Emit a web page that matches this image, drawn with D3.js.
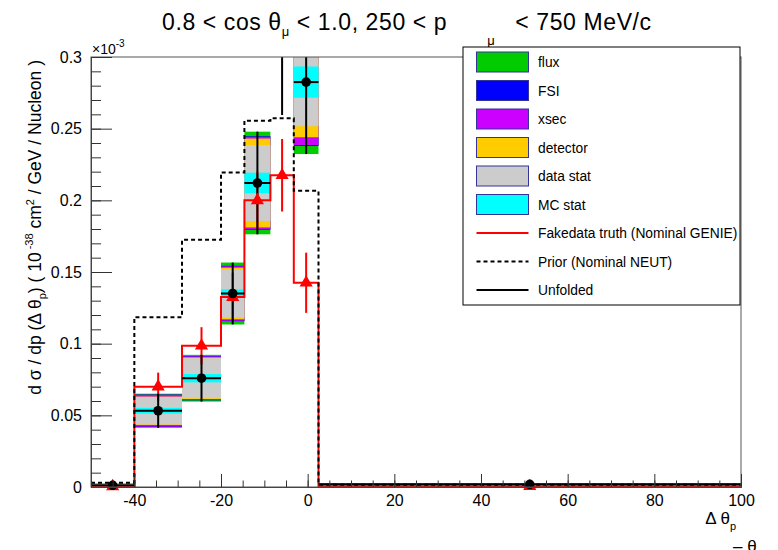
<!DOCTYPE html>
<html>
<head>
  <meta charset="utf-8">
  <title>Delta theta_p unfolded cross section</title>
  <style type="text/css">
    body { margin: 0; background: #fff; }
    svg text { font-family: "Liberation Sans", Arial, Helvetica, sans-serif; fill: #000; }
  </style>
</head>
<body>
  <script src="https://cdn.jsdelivr.net/npm/d3@7/dist/d3.min.js"></script>
  <script>

    // bin edges of delta theta_p
    var edges = [-50, -40, -29, -20, -14.6, -8.6, -3.2, 2.5, 100];

    // fake data truth (Nominal GENIE), units of 1e-3
    var truth    = [0.0004, 0.070, 0.0985, 0.1325, 0.200, 0.2175, 0.1425, 0.0005];
    var truthErr = [0.0004, 0.0098, 0.013, 0.017, 0.020, 0.0253, 0.021, 0.0003];

    // prior (Nominal NEUT)
    var prior = [0.003, 0.1185, 0.1725, 0.2195, 0.2556, 0.2572, 0.2066, 0.0015];

    // unfolded result
    var unfolded = [0.0012, 0.0532, 0.0759, 0.1350, 0.2121, 0.33, 0.2825, 0.0019];

    // cumulative half widths of the error bands
    var errMCStat   = [0.0002, 0.0020, 0.0029, 0.0029, 0.0072, 0.010, 0.0109, 0.0001];
    var errDataStat = [0.0008, 0.0096, 0.0140, 0.0168, 0.0265, 0.035, 0.0308, 0.0003];
    var errDetector = [0.0009, 0.0099, 0.0145, 0.0180, 0.0310, 0.050, 0.0385, 0.0003];
    var errXsec     = [0.0010, 0.0111, 0.0152, 0.0190, 0.0322, 0.056, 0.0439, 0.0004];
    var errFSI      = [0.0010, 0.0113, 0.0154, 0.0193, 0.0326, 0.057, 0.0446, 0.0004];
    var errFlux     = [0.0011, 0.0119, 0.0163, 0.0216, 0.0358, 0.0705, 0.0502, 0.0004];

    var yTicks = [0, 0.05, 0.1, 0.15, 0.2, 0.25, 0.3];
    var xTicks = [-40, -20, 0, 20, 40, 60, 80, 100];

    var bands = [
      {name: "flux",      color: "#00cc00", err: errFlux},
      {name: "FSI",       color: "#0000ff", err: errFSI},
      {name: "xsec",      color: "#cc00ff", err: errXsec},
      {name: "detector",  color: "#ffcc00", err: errDetector},
      {name: "data stat", color: "#cccccc", err: errDataStat},
      {name: "MC stat",   color: "#00ffff", err: errMCStat}
    ];

    var margin = {top: 57, right: 37, bottom: 63, left: 91},
        width  = 778 - margin.left - margin.right,
        height = 550 - margin.top - margin.bottom;

    var svg = d3.select("body")
      .append("svg")
      .attr("width", 778)
      .attr("height", 550);

    var chart = svg.append("g")
      .attr("transform", "translate(" + margin.left + "," + margin.top + ")");

    var xScale = d3.scaleLinear().domain([-50, 100]).range([0, width]);
    var yScale = d3.scaleLinear().domain([0, 0.3]).range([height, 0]);

    chart.append("clipPath").attr("id", "plotclip")
      .append("rect").attr("x", 0).attr("y", 0).attr("width", width).attr("height", height);

    var plot = chart.append("g").attr("clip-path", "url(#plotclip)");

    var bins = unfolded.map(function(v, i){
      return {i: i, lo: edges[i], hi: edges[i+1], mid: (edges[i] + edges[i+1]) / 2};
    });

    // error band boxes, outermost first (points above the frame are not drawn)
    var shown = bins.filter(function(b){ return unfolded[b.i] <= 0.3; });
    bands.forEach(function(band){
      plot.append("g").selectAll("rect")
        .data(shown)
        .enter()
        .append("rect")
        .attr("x", function(b){ return xScale(b.lo); })
        .attr("width", function(b){ return xScale(b.hi) - xScale(b.lo); })
        .attr("y", function(b){ return yScale(unfolded[b.i] + band.err[b.i]); })
        .attr("height", function(b){ return yScale(unfolded[b.i] - band.err[b.i]) - yScale(unfolded[b.i] + band.err[b.i]); })
        .attr("fill", band.color);
    });

    // histogram outlines
    function stepPath(vals){
      var pts = vals.map(function(v, i){ return [edges[i], v]; });
      pts.push([edges[edges.length - 1], vals[vals.length - 1]]);
      return d3.line()
        .x(function(d){ return xScale(d[0]); })
        .y(function(d){ return yScale(d[1]); })
        .curve(d3.curveStepAfter)(pts);
    }

    plot.append("path")
      .attr("d", stepPath(truth))
      .attr("fill", "none")
      .attr("stroke", "#ff0000")
      .attr("stroke-width", 2);

    plot.append("path")
      .attr("d", stepPath(prior))
      .attr("fill", "none")
      .attr("stroke", "#000")
      .attr("stroke-width", 2)
      .attr("stroke-dasharray", "4,3");

    // truth points
    plot.append("g").selectAll("line")
      .data(bins)
      .enter()
      .append("line")
      .attr("x1", function(b){ return xScale(b.mid); })
      .attr("x2", function(b){ return xScale(b.mid); })
      .attr("y1", function(b){ return yScale(truth[b.i] + truthErr[b.i]); })
      .attr("y2", function(b){ return yScale(truth[b.i] - truthErr[b.i]); })
      .attr("stroke", "#ff0000")
      .attr("stroke-width", 2);

    chart.append("g").selectAll("path")
      .data(bins)
      .enter()
      .append("path")
      .attr("d", d3.symbol(d3.symbolTriangle, 75))
      .attr("transform", function(b){ return "translate(" + xScale(b.mid) + "," + yScale(truth[b.i]) + ")"; })
      .attr("fill", "#ff0000");

    // unfolded points
    var unf = plot.append("g");
    unf.selectAll("line.v")
      .data(bins)
      .enter()
      .append("line")
      .attr("class", "v")
      .attr("x1", function(b){ return xScale(b.mid); })
      .attr("x2", function(b){ return xScale(b.mid); })
      .attr("y1", function(b){ return yScale(unfolded[b.i] + errFlux[b.i]); })
      .attr("y2", function(b){ return yScale(unfolded[b.i] - errFlux[b.i]); })
      .attr("stroke", "#000")
      .attr("stroke-width", 2);

    unf.selectAll("line.h")
      .data(shown)
      .enter()
      .append("line")
      .attr("class", "h")
      .attr("x1", function(b){ return xScale(b.lo); })
      .attr("x2", function(b){ return xScale(b.hi); })
      .attr("y1", function(b){ return yScale(unfolded[b.i]); })
      .attr("y2", function(b){ return yScale(unfolded[b.i]); })
      .attr("stroke", "#000")
      .attr("stroke-width", 2);

    chart.append("g").selectAll("circle")
      .data(shown)
      .enter()
      .append("circle")
      .attr("cx", function(b){ return xScale(b.mid); })
      .attr("cy", function(b){ return yScale(unfolded[b.i]); })
      .attr("r", 4.8)
      .attr("fill", "#000");

    // frame
    chart.append("rect")
      .attr("width", width)
      .attr("height", height)
      .attr("fill", "none")
      .attr("stroke", "#555")
      .attr("stroke-width", 1);

    // axes, ticks pointing inside like ROOT
    chart.append("g")
      .call(d3.axisLeft(yScale).tickValues(yTicks).tickSize(-21).tickPadding(9)
        .tickFormat(d3.format("~g")));
    chart.append("g")
      .call(d3.axisLeft(yScale).tickValues(d3.range(0, 0.3001, 0.01)).tickSize(-10).tickFormat(""));

    chart.append("g")
      .attr("transform", "translate(0," + height + ")")
      .call(d3.axisBottom(xScale).tickValues(xTicks).tickSize(-13).tickPadding(8)
        .tickFormat(function(d){ return String(d); }));
    chart.append("g")
      .attr("transform", "translate(0," + height + ")")
      .call(d3.axisBottom(xScale).tickValues(d3.range(-50, 100.1, 5)).tickSize(-6.5).tickFormat(""));

    chart.selectAll(".domain").attr("stroke", "#444");
    chart.selectAll(".tick line").attr("stroke", "#333");
    chart.selectAll(".tick text").style("font-size", "16px");

    // x10^-3 exponent
    var expo = chart.append("text").attr("x", 1).attr("y", -3).style("font-size", "14px");
    expo.append("tspan").text("\u00d710");
    expo.append("tspan").attr("dy", -7).style("font-size", "10px").text("-3");

    // axis titles
    var xt = chart.append("text")
      .attr("x", width - 5)
      .attr("y", height + 37)
      .style("text-anchor", "end")
      .style("font-size", "17px");
    xt.append("tspan").text("\u0394 \u03b8");
    xt.append("tspan").attr("dy", 6).style("font-size", "11px").text("p");

    var xt2 = svg.append("text")
      .attr("x", 733)
      .attr("y", 552)
      .style("font-size", "17px");
    xt2.append("tspan").text("\u2013  \u03b8");
    xt2.append("tspan").attr("dy", 6).style("font-size", "11px").text("p");

    var yt = svg.append("text")
      .attr("transform", "translate(41,60) rotate(-90)")
      .style("text-anchor", "end")
      .style("font-size", "17.5px");
    yt.append("tspan").text("d \u03c3 / dp (\u0394 \u03b8");
    yt.append("tspan").attr("dy", 5).style("font-size", "11px").text("p");
    yt.append("tspan").attr("dy", -5).text(") ( 10");
    yt.append("tspan").attr("dy", -8).attr("dx", 3).style("font-size", "11px").text("-38");
    yt.append("tspan").attr("dy", 8).text(" cm");
    yt.append("tspan").attr("dy", -7).style("font-size", "11px").text("2");
    yt.append("tspan").attr("dy", 7).text(" / GeV / Nucleon )");

    // title
    var title = svg.append("text")
      .attr("x", 162)
      .attr("y", 30)
      .style("font-size", "23px")
      .style("letter-spacing", "0.6px");
    title.append("tspan").text("0.8 < cos  \u03b8");
    title.append("tspan").attr("dy", 6).style("font-size", "13px").text("\u03bc");
    title.append("tspan").attr("dy", -6).text(" < 1.0, 250 < p");
    title.append("tspan").attr("dx", 40).attr("dy", 15).style("font-size", "13px").text("\u03bc");
    title.append("tspan").attr("dx", 20).attr("dy", -15).text("< 750 MeV/c");

    // legend
    var legendItems = bands.map(function(b){ return {name: b.name, type: "box", color: b.color}; })
      .concat([
        {name: "Fakedata truth (Nominal GENIE)", type: "line", color: "#ff0000", dash: null},
        {name: "Prior (Nominal NEUT)", type: "line", color: "#000", dash: "4,3"},
        {name: "Unfolded", type: "line", color: "#000", dash: null}
      ]);

    var legendBox = svg.append("g").attr("transform", "translate(463,47)");
    legendBox.append("rect")
      .attr("width", 277)
      .attr("height", 258)
      .attr("fill", "#fff")
      .attr("stroke", "#000")
      .attr("stroke-width", 1);

    var legend = legendBox.selectAll("g.entry")
      .data(legendItems)
      .enter()
      .append("g")
      .attr("class", "entry")
      .attr("transform", function(d, i){ return "translate(0," + (15 + i * 28.5) + ")"; });

    legend.filter(function(d){ return d.type === "box"; })
      .append("rect")
      .attr("x", 13.5)
      .attr("y", -10)
      .attr("width", 52)
      .attr("height", 20)
      .attr("fill", function(d){ return d.color; })
      .attr("stroke", "#33339a")
      .attr("stroke-width", 1);

    legend.filter(function(d){ return d.type === "line"; })
      .append("line")
      .attr("x1", 13.5)
      .attr("x2", 65.5)
      .attr("stroke", function(d){ return d.color; })
      .attr("stroke-width", 2)
      .attr("stroke-dasharray", function(d){ return d.dash; });

    legend.append("text")
      .attr("x", 75)
      .attr("y", 5)
      .style("font-size", "13.8px")
      .text(function(d){ return d.name; });

  </script>
</body>
</html>
